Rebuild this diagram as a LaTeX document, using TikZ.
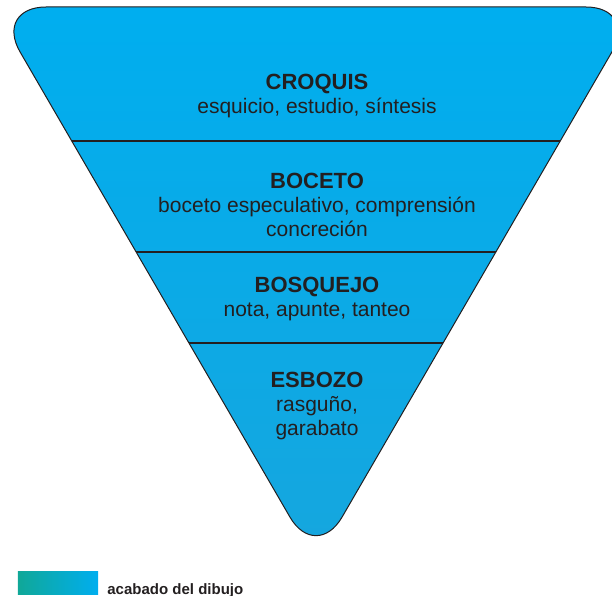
\documentclass[tikz,border=0pt]{standalone}
\usepackage{fontspec}
\setmainfont{Liberation Sans}
\usetikzlibrary{positioning}
\definecolor{cyanfill}{RGB}{0,174,239}
\definecolor{cyanlow}{RGB}{22,166,222}
\definecolor{tealleg}{RGB}{16,168,152}
\definecolor{inktext}{RGB}{35,31,32}
\newcommand{\bandtitle}[1]{{\fontsize{22bp}{24bp}\selectfont\bfseries #1}}

\begin{document}
\begin{tikzpicture}[x=1bp, y=-1bp,
    band/.style={align=center, anchor=north, inner sep=0pt, text=inktext,
        font=\fontsize{21bp}{24bp}\selectfont},
    sepline/.style={draw=inktext, line width=1.4bp},
    legendbar/.style={left color=tealleg, right color=cyanfill, minimum width=80bp,
        minimum height=23bp, inner sep=0pt}]
    \useasboundingbox (0,0) rectangle (612,596);

    % triangulo invertido
    \shade[top color=cyanfill, bottom color=cyanlow, rounded corners=52bp]
        (-6,7) -- (638,7) -- (316,562) -- cycle;
    \begin{scope}
        \clip[rounded corners=52bp] (-6,7) -- (638,7) -- (316,562) -- cycle;
        \foreach \yy in {141,252,343}
            \draw[sepline] (0,\yy) -- (612,\yy);
    \end{scope}
    \draw[inktext, line width=1bp, rounded corners=52bp]
        (-6,7) -- (638,7) -- (316,562) -- cycle;

    % niveles
    \node[band] (croquis) at (317,74) {\bandtitle{CROQUIS}\\esquicio, estudio, síntesis};
    \node[band] (boceto) at (317,173) {\bandtitle{BOCETO}\\boceto especulativo, comprensión\\concreción};
    \node[band] (bosquejo) at (317,277) {\bandtitle{BOSQUEJO}\\nota, apunte, tanteo};
    \node[band] (esbozo) at (317,372) {\bandtitle{ESBOZO}\\rasguño,\\garabato};

    % leyenda
    \node[legendbar] (legbar) at (58,582.5) {};
    \node[right=9bp of legbar.south east, anchor=base west, inner sep=0pt, text=inktext,
        font=\fontsize{15bp}{17bp}\selectfont\bfseries] (legtext) {acabado del dibujo};

\end{tikzpicture}
\end{document}
